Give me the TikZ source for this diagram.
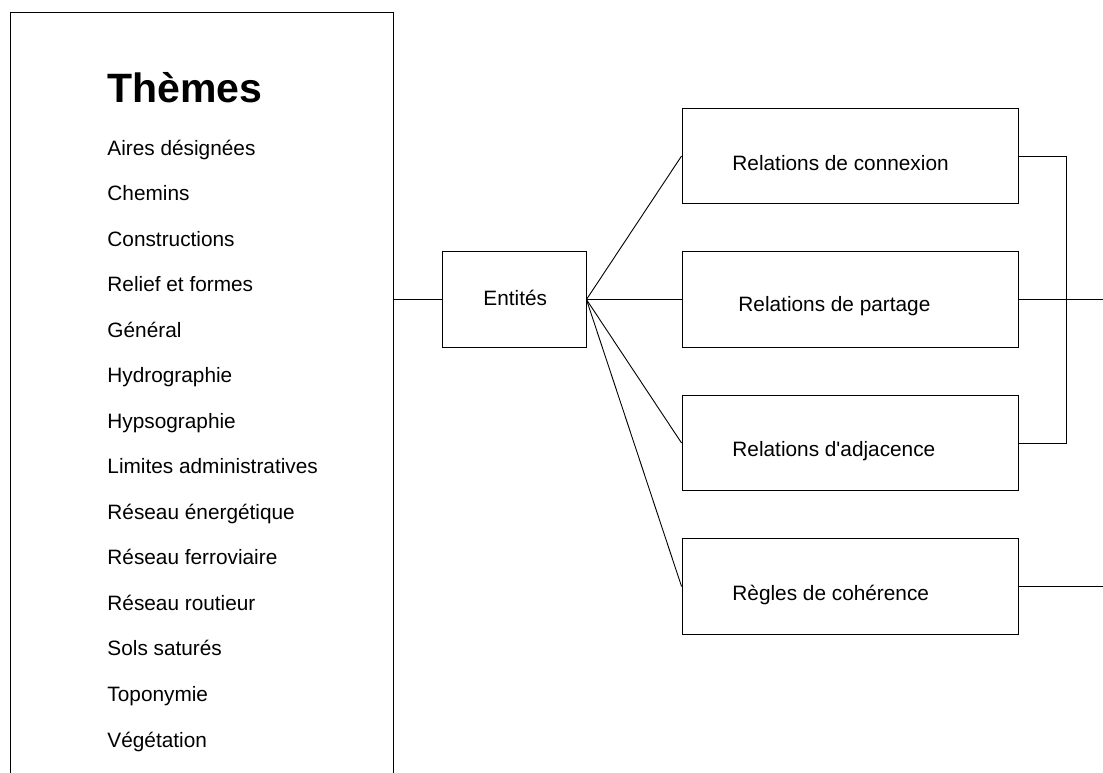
\documentclass[tikz,border=0pt]{standalone}
\usepackage{fontspec}
\setmainfont{Liberation Sans}
\begin{document}
\begin{tikzpicture}[x=1pt,y=-1pt,
  line width=0.9pt,
  box/.style={draw=black, rectangle, inner sep=0pt, minimum height=95.5pt},
  relbox/.style={box, minimum width=336pt},
  txt/.style={anchor=base west, inner sep=0pt, font=\fontsize{20.8}{25}\selectfont},
  title/.style={anchor=base west, inner sep=0pt, font=\fontsize{41}{49}\selectfont\bfseries},
  link/.style={draw=black, line width=0.9pt}]
\clip (0,0) rectangle (1103,772);
\fill[white] (0,0) rectangle (1103,772);

% Theme list panel (runs past the lower edge)
\node[box, anchor=north west, minimum width=383pt, minimum height=820pt] (themes) at (10,12) {};
\node[title] (ttl) at (107,102) {Thèmes};
\foreach \t [count=\i from 0] in {Aires désignées, Chemins, Constructions, Relief et formes,
  Général, Hydrographie, Hypsographie, Limites administratives, Réseau énergétique,
  Réseau ferroviaire, Réseau routieur, Sols saturés, Toponymie, Végétation}
  \node[txt] (th\i) at (107,155+\i*45.54) {\t};

% Entities
\node[box, minimum width=144pt] (ent) at (514,299.5) {};
\node[txt] (entl) at (483,305) {Entités};

% Relation boxes
\node[relbox] (rc) at (850,156) {};
\node[txt] (rcl) at (732,170) {Relations de connexion};
\node[relbox] (rp) at (850,299.5) {};
\node[txt] (rpl) at (738,311) {Relations de partage};
\node[relbox] (ra) at (850,443) {};
\node[txt] (ral) at (732,456) {Relations d\textquotesingle adjacence};
\node[relbox] (rr) at (850,586.5) {};
\node[txt] (rrl) at (732,600) {Règles de cohérence};

% Connectors
\draw[link] (themes.east |- ent.west) -- (ent.west);
\draw[link] (ent.east) -- (rc.west);
\draw[link] (ent.east) -- (rp.west);
\draw[link] (ent.east) -- (ra.west);
\draw[link] (ent.east) -- (rr.west);
\coordinate (bend) at (1066,156);
\draw[link] (rc.east) -- (bend) |- (ra.east);
\coordinate (outP) at (1110,299.5);
\coordinate (outR) at (1110,586.5);
\draw[link] (rp.east) -- (outP);
\draw[link] (rr.east) -- (outR);
\end{tikzpicture}
\end{document}
